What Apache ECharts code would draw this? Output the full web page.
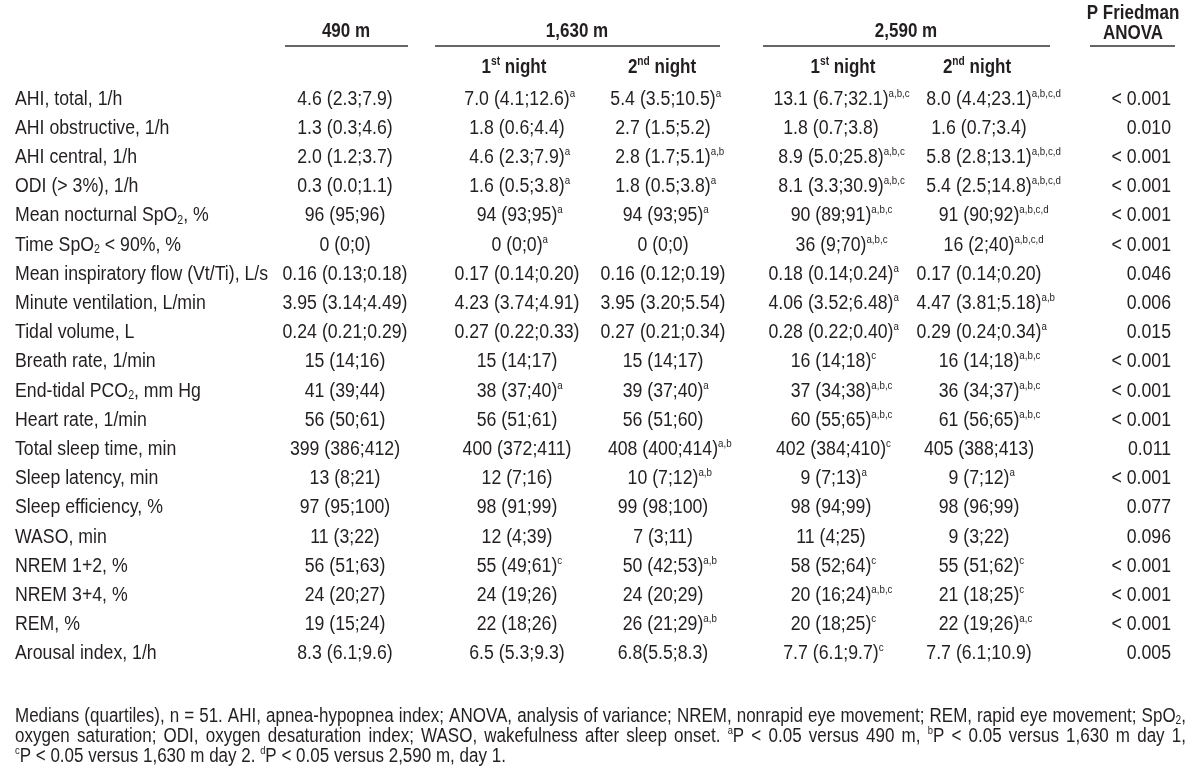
<!DOCTYPE html>
<html><head><meta charset="utf-8">
<script src="https://cdn.jsdelivr.net/npm/echarts@6.0.0/dist/echarts.min.js"></script>
<style>html,body{margin:0;padding:0;background:#fff}#c{width:1200px;height:784px}</style>
</head><body><div id="c"></div>
<script>
// ---------------- DATA ----------------
const rowLabels = [
  "AHI, total, 1/h","AHI obstructive, 1/h","AHI central, 1/h","ODI (> 3%), 1/h",
  "Mean nocturnal SpO_2, %","Time SpO_2 < 90%, %","Mean inspiratory flow (Vt/Ti), L/s",
  "Minute ventilation, L/min","Tidal volume, L","Breath rate, 1/min","End-tidal PCO_2, mm Hg",
  "Heart rate, 1/min","Total sleep time, min","Sleep latency, min","Sleep efficiency, %",
  "WASO, min","NREM 1+2, %","NREM 3+4, %","REM, %","Arousal index, 1/h"
];
const col490 = ["4.6 (2.3;7.9)","1.3 (0.3;4.6)","2.0 (1.2;3.7)","0.3 (0.0;1.1)","96 (95;96)","0 (0;0)",
  "0.16 (0.13;0.18)","3.95 (3.14;4.49)","0.24 (0.21;0.29)","15 (14;16)","41 (39;44)","56 (50;61)",
  "399 (386;412)","13 (8;21)","97 (95;100)","11 (3;22)","56 (51;63)","24 (20;27)","19 (15;24)","8.3 (6.1;9.6)"];
const col1630n1 = ["7.0 (4.1;12.6)^a","1.8 (0.6;4.4)","4.6 (2.3;7.9)^a","1.6 (0.5;3.8)^a","94 (93;95)^a","0 (0;0)^a",
  "0.17 (0.14;0.20)","4.23 (3.74;4.91)","0.27 (0.22;0.33)","15 (14;17)","38 (37;40)^a","56 (51;61)",
  "400 (372;411)","12 (7;16)","98 (91;99)","12 (4;39)","55 (49;61)^c","24 (19;26)","22 (18;26)","6.5 (5.3;9.3)"];
const col1630n2 = ["5.4 (3.5;10.5)^a","2.7 (1.5;5.2)","2.8 (1.7;5.1)^a,b","1.8 (0.5;3.8)^a","94 (93;95)^a","0 (0;0)",
  "0.16 (0.12;0.19)","3.95 (3.20;5.54)","0.27 (0.21;0.34)","15 (14;17)","39 (37;40)^a","56 (51;60)",
  "408 (400;414)^a,b","10 (7;12)^a,b","99 (98;100)","7 (3;11)","50 (42;53)^a,b","24 (20;29)","26 (21;29)^a,b","6.8(5.5;8.3)"];
const col2590n1 = ["13.1 (6.7;32.1)^a,b,c","1.8 (0.7;3.8)","8.9 (5.0;25.8)^a,b,c","8.1 (3.3;30.9)^a,b,c","90 (89;91)^a,b,c","36 (9;70)^a,b,c",
  "0.18 (0.14;0.24)^a","4.06 (3.52;6.48)^a","0.28 (0.22;0.40)^a","16 (14;18)^c","37 (34;38)^a,b,c","60 (55;65)^a,b,c",
  "402 (384;410)^c","9 (7;13)^a","98 (94;99)","11 (4;25)","58 (52;64)^c","20 (16;24)^a,b,c","20 (18;25)^c","7.7 (6.1;9.7)^c"];
const col2590n2 = ["8.0 (4.4;23.1)^a,b,c,d","1.6 (0.7;3.4)","5.8 (2.8;13.1)^a,b,c,d","5.4 (2.5;14.8)^a,b,c,d","91 (90;92)^a,b,c,d","16 (2;40)^a,b,c,d",
  "0.17 (0.14;0.20)","4.47 (3.81;5.18)^a,b","0.29 (0.24;0.34)^a","16 (14;18)^a,b,c","36 (34;37)^a,b,c","61 (56;65)^a,b,c",
  "405 (388;413)","9 (7;12)^a","98 (96;99)","9 (3;22)","55 (51;62)^c","21 (18;25)^c","22 (19;26)^a,c","7.7 (6.1;10.9)"];
const pValues = ["< 0.001","0.010","< 0.001","< 0.001","< 0.001","< 0.001","0.046","0.006","0.015","< 0.001",
  "< 0.001","< 0.001","0.011","< 0.001","0.077","0.096","< 0.001","< 0.001","< 0.001","0.005"];
const groupHeaders = ["490 m","1,630 m","2,590 m"];
const nightHeaders = ["1^st night","2^nd night","1^st night","2^nd night"];
const pHeader = ["P Friedman","ANOVA"];
const footnoteLines = [
  "Medians (quartiles), n = 51. AHI, apnea-hypopnea index; ANOVA, analysis of variance; NREM, nonrapid eye movement; REM, rapid eye movement; SpO_2,",
  "oxygen saturation; ODI, oxygen desaturation index; WASO, wakefulness after sleep onset. ^aP < 0.05 versus 490 m, ^bP < 0.05 versus 1,630 m day 1,",
  "^cP < 0.05 versus 1,630 m day 2. ^dP < 0.05 versus 2,590 m, day 1."
];

// ---------------- LAYOUT ----------------
const FONT = '"Liberation Sans", Arial, sans-serif';
const SX = 0.885;              // horizontal condensing (table body) to emulate a narrow face
const SXH = 0.85;              // headers
const SXF = 0.85;              // footnote
const TXT = '#231f20';
const FS = 20, SUP = 11, SUB = 12;
const colX = [15, 345, 517, 663, 831, 979, 1171];
const colAlign = ['left','center','center','center','center','center','right'];
const cells = [rowLabels, col490, col1630n1, col1630n2, col2590n1, col2590n2, pValues];

const rich = {
  sup: {fontSize: SUP, fontFamily: FONT, fill: TXT, verticalAlign: 'top', lineHeight: 15},
  ghost: {fontSize: SUP, fontFamily: FONT, fill: 'rgba(0,0,0,0)', verticalAlign: 'top', lineHeight: 15},
  sub: {fontSize: SUB, fontFamily: FONT, fill: TXT, verticalAlign: 'bottom', lineHeight: 15},
  bsup: {fontSize: 12, fontFamily: FONT, fontWeight: 'bold', fill: TXT, verticalAlign: 'top', lineHeight: 15}
};

function cellRich(raw, c) {
  let main = raw, sup = '';
  const i = raw.indexOf('^');
  if (i >= 0) { main = raw.slice(0, i); sup = raw.slice(i + 1); }
  main = main.replace(/_(\d)/g, '{sub|$1}');
  if (!sup) return main;
  if (colAlign[c] === 'center') return '{ghost|' + sup + '}' + main + '{sup|' + sup + '}';
  return main + '{sup|' + sup + '}';
}

const seriesData = [];
cells.forEach((arr, c) => arr.forEach((v, r) => seriesData.push([colX[c], r, c])));

// footnote justification
const mctx = document.createElement('canvas').getContext('2d');
function segs(word) {
  const out = []; let buf = '';
  for (let k = 0; k < word.length; k++) {
    const ch = word[k];
    if ((ch === '^' || ch === '_') && k + 1 < word.length) {
      if (buf) { out.push(['n', buf]); buf = ''; }
      out.push([ch === '^' ? 'sup' : 'sub', word[k + 1]]); k++;
    } else buf += ch;
  }
  if (buf) out.push(['n', buf]);
  return out;
}
function segWidth(s) {
  let w = 0;
  s.forEach(([t, txt]) => {
    mctx.font = (t === 'n' ? FS : (t === 'sup' ? SUP : SUB)) + 'px ' + FONT;
    w += mctx.measureText(txt).width;
  });
  return w * SXF;
}
function segRich(s) { return s.map(([t, txt]) => t === 'n' ? txt : '{' + t + '|' + txt + '}').join(''); }

const graphic = [];
const FN_LEFT = 15, FN_RIGHT = 1186, FN_Y = [716, 736, 756];
footnoteLines.forEach((line, li) => {
  const words = line.split(' ').map(segs);
  const widths = words.map(segWidth);
  mctx.font = FS + 'px ' + FONT;
  const space = mctx.measureText(' ').width * SXF;
  let gap = space;
  if (li < footnoteLines.length - 1) {
    gap = (FN_RIGHT - FN_LEFT - widths.reduce((a, b) => a + b, 0)) / (words.length - 1);
  }
  let x = FN_LEFT;
  words.forEach((wd, k) => {
    graphic.push({type: 'text', x: x, y: FN_Y[li], scaleX: SXF, silent: true,
      style: {text: segRich(wd), rich: rich, fontSize: FS, fontFamily: FONT, fill: TXT,
        align: 'left', verticalAlign: 'middle', lineHeight: 22}});
    x += widths[k] + gap;
  });
});

// headers
const HY = 31, LINE_Y = 46, SUBY = 67;
const hdrX = [346, 577, 906];
const nightX = [514, 662, 843, 977];
function hdr(x, y, text) {
  graphic.push({type: 'text', x: x, y: y, scaleX: SXH, silent: true,
    style: {text: text, rich: rich, fontSize: 20, fontWeight: 'bold', fontFamily: FONT, fill: TXT,
      align: 'center', verticalAlign: 'middle', lineHeight: 22}});
}
groupHeaders.forEach((h, i) => hdr(hdrX[i], HY, h));
hdr(1133, 13, pHeader[0]);
hdr(1133, 33, pHeader[1]);
const underlines = [[285, 408], [435, 720], [763, 1050], [1090, 1175]];
underlines.forEach(([a, b]) => graphic.push({type: 'line', silent: true,
  shape: {x1: a, y1: LINE_Y, x2: b, y2: LINE_Y}, style: {stroke: '#333', lineWidth: 1.5}}));
nightHeaders.forEach((h, i) => hdr(nightX[i], SUBY, h.replace(/\^(\w\w)/, '{bsup|$1}')));

const chart = echarts.init(document.getElementById('c'));
chart.setOption({
  animation: false,
  backgroundColor: '#fff',
  grid: {left: 0, right: 0, top: 84.4, height: 584},
  xAxis: {type: 'value', min: 0, max: 1200, show: false},
  yAxis: {type: 'category', data: rowLabels, inverse: true, show: false},
  graphic: graphic,
  series: [{
    type: 'custom',
    data: seriesData,
    silent: true,
    renderItem: function (params, api) {
      const c = api.value(2), r = api.value(1);
      const p = api.coord([api.value(0), r]);
      return {type: 'text', x: p[0], y: p[1], scaleX: SX,
        style: {text: cellRich(cells[c][r], c), rich: rich, fontSize: FS, fontFamily: FONT, fill: TXT,
          align: colAlign[c], verticalAlign: 'middle', lineHeight: 22}};
    }
  }]
});
</script></body></html>
